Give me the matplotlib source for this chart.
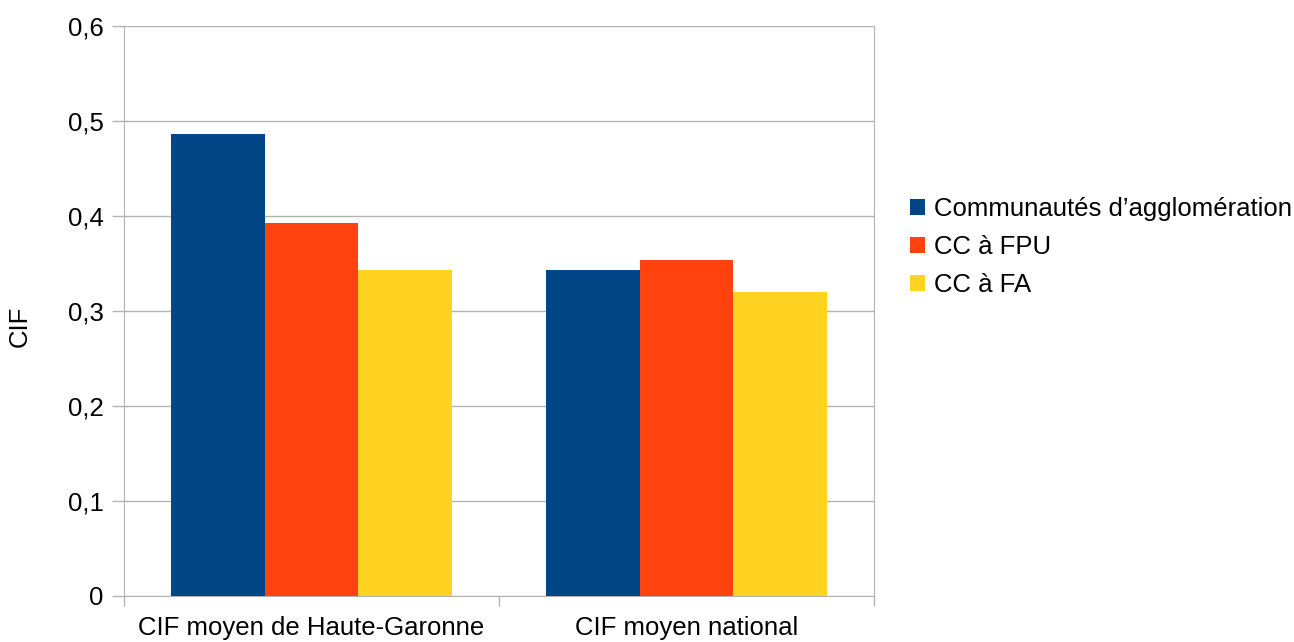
import matplotlib.pyplot as plt
import numpy as np

plt.rcParams['font.family'] = ['Liberation Sans', 'DejaVu Sans']

categories = ["CIF moyen de Haute-Garonne", "CIF moyen national"]
series = ["Communautés d’agglomération", "CC à FPU", "CC à FA"]
values = {
    "Communautés d’agglomération": [0.486, 0.343],
    "CC à FPU": [0.392, 0.353],
    "CC à FA": [0.343, 0.320],
}
colors = ["#004586", "#ff420e", "#ffd320"]
yticks = [0, 0.1, 0.2, 0.3, 0.4, 0.5, 0.6]
ytick_labels = ["0", "0,1", "0,2", "0,3", "0,4", "0,5", "0,6"]

fs = 18.5
fig = plt.figure(figsize=(12.94, 6.42), dpi=100)
W, H = 1294, 642
ax = fig.add_axes([124 / W, 1 - 595.5 / H, 750 / W, (595.5 - 25.7) / H])

x = np.arange(len(categories))
width = 0.25
for i, (name, c) in enumerate(zip(series, colors)):
    ax.bar(x + (i - 1) * width, values[name], width, color=c, label=name, zorder=3)

ax.set_xlim(-0.5, len(categories) - 0.5)
ax.set_ylim(0, 0.6)
ax.set_yticks(yticks)
ax.set_yticklabels(ytick_labels, fontsize=fs)
ax.set_xticks(x)
ax.set_xticklabels(categories, fontsize=fs)
ax.set_xticks([-0.5, 0.5, 1.5], minor=True)
ax.tick_params(axis='x', which='major', length=0, pad=14.5)
ax.tick_params(axis='x', which='minor', length=7, color='#b3b3b3', width=1)
ax.tick_params(axis='y', length=8.6, color='#b3b3b3', width=1, pad=6)
ax.grid(axis='y', color='#b3b3b3', linewidth=1, zorder=0)
for side in ['left', 'right', 'bottom']:
    ax.spines[side].set_color('#b3b3b3')
ax.spines['top'].set_visible(False)

fig.text(20 / W, 1 - 326 / H, "CIF", rotation=90, fontsize=fs, ha='center', va='center')

ax.legend(loc='center left', bbox_to_anchor=((910 - 124) / 750, 0.611), frameon=False,
          fontsize=fs, handlelength=0.58, handleheight=0.58, handletextpad=0.35,
          labelspacing=0.54, borderaxespad=0, borderpad=0)

fig.savefig("out.png", dpi=100)
